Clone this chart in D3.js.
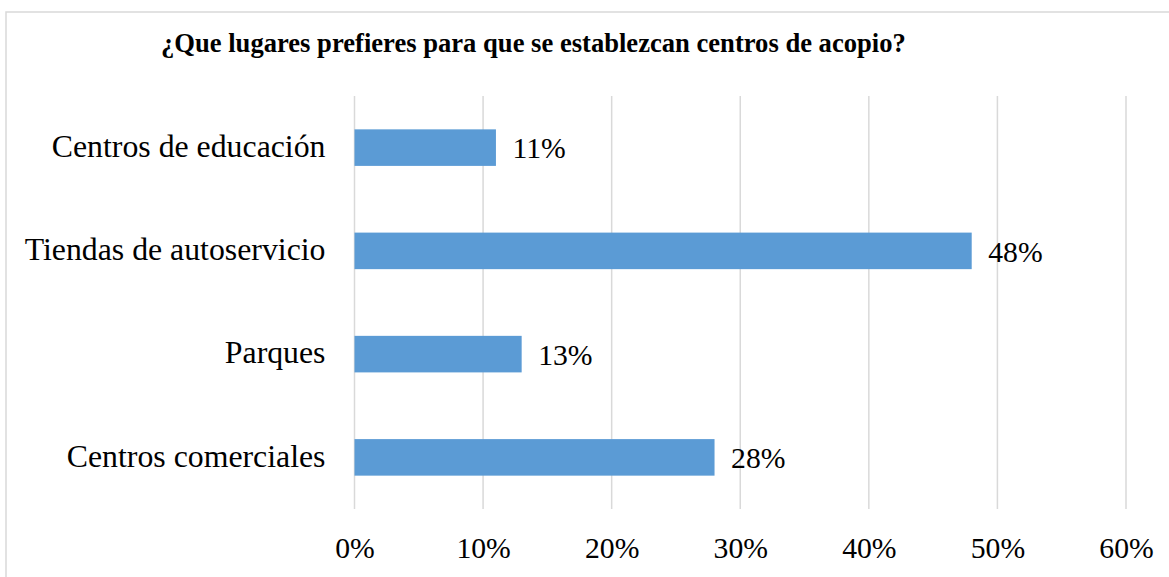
<!DOCTYPE html>
<html>
<head>
<meta charset="utf-8">
<script src="https://cdn.jsdelivr.net/npm/d3@7"></script>
<style>
  html, body { margin: 0; padding: 0; background: #fff; }
  svg { display: block; }
  svg text { font-family: "Liberation Serif", "Times New Roman", serif; fill: #000; }
</style>
</head>
<body>
<svg id="chart" width="1169" height="577"></svg>
<script>
const categories = ["Centros de educación", "Tiendas de autoservicio", "Parques", "Centros comerciales"];
const values = [0.11, 0.48, 0.13, 0.28];
const tickValues = [0, 0.1, 0.2, 0.3, 0.4, 0.5, 0.6];
const title = "¿Que lugares prefieres para que se establezcan centros de acopio?";

const svg = d3.select("#chart");
const categorySize = 31.8;
const numberSize = 29.7;

// outer chart frame
svg.append("rect")
  .attr("x", 6).attr("y", 12)
  .attr("width", 1180).attr("height", 600)
  .attr("fill", "#fff").attr("stroke", "#d9d9d9").attr("stroke-width", 1.5);

const plot = { left: 354.5, right: 1126, top: 96, bottom: 509 };

const x = d3.scaleLinear().domain([0, 0.6]).range([plot.left, plot.right]);
const y = d3.scaleBand().domain(categories).range([plot.top, plot.bottom]).paddingInner(0.646).paddingOuter(0.323);

// vertical gridlines
svg.append("g").selectAll("line").data(tickValues).join("line")
  .attr("x1", d => x(d)).attr("x2", d => x(d))
  .attr("y1", plot.top).attr("y2", plot.bottom)
  .attr("stroke", "#d9d9d9").attr("stroke-width", 1.5);

// bars
svg.append("g").selectAll("rect").data(values).join("rect")
  .attr("x", x(0)).attr("y", (d, i) => y(categories[i]))
  .attr("width", d => x(d) - x(0)).attr("height", y.bandwidth())
  .attr("fill", "#5b9bd5");

// value labels
svg.append("g").selectAll("text").data(values).join("text")
  .attr("x", d => x(d) + 16.5).attr("y", (d, i) => y(categories[i]) + y.bandwidth() / 2)
  .attr("dy", "0.36em")
  .style("font-size", numberSize + "px")
  .text(d => d3.format(".0%")(d));

// category axis
const yAxis = d3.axisLeft(y).tickSize(0).tickPadding(29);
svg.append("g").attr("transform", `translate(${plot.left},0)`).call(yAxis)
  .call(g => g.select(".domain").remove())
  .call(g => g.selectAll("text").style("font-size", categorySize + "px").attr("fill", "#000").attr("dy", "0.29em"));

// value axis
const xAxis = d3.axisBottom(x).tickValues(tickValues).tickFormat(d3.format(".0%")).tickSize(0).tickPadding(28);
svg.append("g").attr("transform", `translate(0,${plot.bottom})`).call(xAxis)
  .call(g => g.select(".domain").remove())
  .call(g => g.selectAll("text").style("font-size", numberSize + "px").attr("fill", "#000"));

// title
svg.append("text")
  .attr("x", 533.4).attr("y", 52)
  .attr("text-anchor", "middle")
  .style("font-size", "26.6px").style("font-weight", "bold")
  .text(title);
</script>
</body>
</html>
